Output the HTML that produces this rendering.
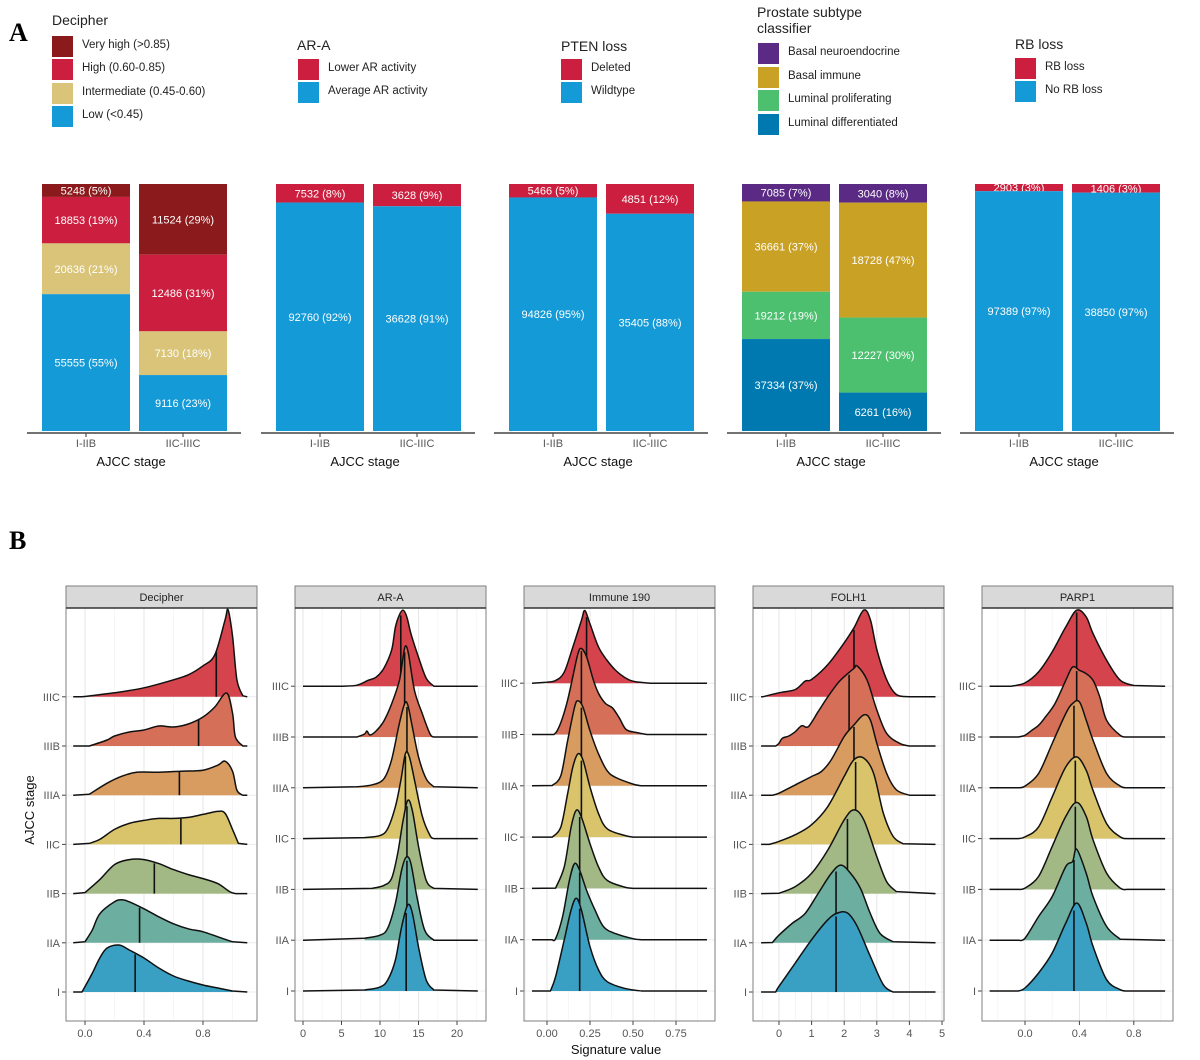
<!DOCTYPE html>
<html><head><meta charset="utf-8">
<style>
body{margin:0;background:#fff;}
#root{position:relative;width:1200px;height:1060px;overflow:hidden;font-family:"Liberation Sans",sans-serif;background:#fff;}
.lg{position:absolute;font-size:11.5px;color:#222;}
.lgt{position:absolute;font-size:14px;color:#222;line-height:16px;}
.sw{position:absolute;width:21px;height:21px;}
.pl{position:absolute;font-family:"Liberation Serif",serif;font-weight:bold;font-size:26px;}
svg{position:absolute;left:0;top:0;}
</style></head><body>
<div id="root">
<div class="pl" style="left:9px;top:18px">A</div>
<div class="pl" style="left:9px;top:526px">B</div>
<div id="legends"></div>
<svg id="chart" width="1200" height="1060"></svg>
</div>
<script>
// ---------- Panel A data ----------
const barStages = ['I-IIB','IIC-IIIC'];
const decipherCats = ['Very high (>0.85)','High (0.60-0.85)','Intermediate (0.45-0.60)','Low (<0.45)'];
const decipherI = [5248,18853,20636,55555];
const decipherII = [11524,12486,7130,9116];
const araCats = ['Lower AR activity','Average AR activity'];
const araI = [7532,92760];
const araII = [3628,36628];
const ptenCats = ['Deleted','Wildtype'];
const ptenI = [5466,94826];
const ptenII = [4851,35405];
const subCats = ['Basal neuroendocrine','Basal immune','Luminal proliferating','Luminal differentiated'];
const subI = [7085,36661,19212,37334];
const subII = [3040,18728,12227,6261];
const rbCats = ['RB loss','No RB loss'];
const rbI = [2903,97389];
const rbII = [1406,38850];

// ---------- Panel B data (stages I..IIIC) ----------
const ridgeStages = ['I','IIA','IIB','IIC','IIIA','IIIB','IIIC'];
const decipherX = [[-0.02,0.05,0.1,0.15,0.23,0.3,0.4,0.5,0.6,0.7,0.8,0.9,1.0],[0.0,0.05,0.1,0.2,0.25,0.3,0.4,0.5,0.6,0.7,0.8,0.9,1.0],[0.0,0.1,0.2,0.3,0.4,0.5,0.6,0.7,0.8,0.9,0.98,1.02],[0.03,0.1,0.2,0.3,0.4,0.5,0.6,0.7,0.8,0.9,0.95,1.0,1.04],[0.03,0.15,0.25,0.35,0.5,0.65,0.8,0.9,0.95,1.0,1.03,1.07],[0.03,0.15,0.2,0.3,0.4,0.5,0.6,0.7,0.8,0.88,0.96,1.0,1.02,1.07],[-0.02,0.2,0.4,0.6,0.7,0.8,0.88,0.95,0.97,1.0,1.03,1.07]];
const decipherD = [[0,19,34,44,47,42,34,24,16,11,7,4,1],[1,13,29,41,43,41,34,26,19,14,11,6,1],[1,14,29,34,34,30,24,19,15,10,2,0],[1,5,15,21,24,26,26,27,30,33,31,15,1],[1,12,19,23,23,24,25,30,34,24,5,0],[0,6,10,14,16,20,19,22,29,39,53,33,9,0],[0,4,9,17,22,31,42,77,87,61,17,1]];
const decipherMed = [0.34,0.37,0.47,0.65,0.64,0.77,0.89];

const araX = [[8,10,11,12,12.8,13.6,14.2,15,16,17],[8,10,11,12,12.8,13.4,14,14.8,15.8,17],[9,10.5,11.5,12.3,13,13.6,14.2,15,16,17],[8,10,11,12,12.7,13.3,13.8,14.5,15.5,16.5,17],[7,9,10.5,11.5,12.5,13.2,13.6,14.2,15,16,17],[7,8,8.3,8.7,9.5,10.5,11.5,12.5,13,13.3,13.7,14.5,15.5,16.5,17],[5,7,8.5,9.5,10.5,11.5,12,12.5,13,13.5,14,15,16,17]];
const araD = [[1,4,11,31,64,86,78,44,11,1],[2,5,12,37,70,83,77,43,10,0],[1,4,11,36,69,89,79,43,9,1],[1,3,10,32,58,85,82,58,22,3,0],[1,3,9,28,64,84,83,61,31,9,1],[0,3,6,2,6,16,33,56,80,91,83,46,23,3,0],[0,1,6,9,18,36,59,71,76,69,53,29,8,0]];
const araMed = [13.4,13.5,13.5,13.3,13.5,13.2,12.7];

const immuneX = [[0.02,0.05,0.1,0.14,0.17,0.2,0.25,0.3,0.35,0.45,0.55],[0.03,0.05,0.09,0.13,0.16,0.19,0.23,0.28,0.33,0.4,0.5,0.55],[0.05,0.1,0.14,0.17,0.2,0.25,0.3,0.35,0.45,0.5],[0.03,0.08,0.12,0.15,0.18,0.21,0.25,0.3,0.35,0.45,0.5],[0.03,0.08,0.12,0.16,0.18,0.21,0.25,0.3,0.35,0.4,0.5,0.55],[0.04,0.06,0.09,0.12,0.15,0.18,0.2,0.23,0.27,0.3,0.34,0.38,0.42,0.46,0.52,0.58],[0,0.05,0.1,0.15,0.2,0.22,0.25,0.3,0.35,0.4,0.45,0.5,0.6]];
const immuneD = [[0,43,153,243,278,243,133,63,28,8,0],[0,3,68,178,228,208,148,88,38,18,3,0],[1,64,184,234,214,134,64,24,4,0],[0,30,130,210,250,230,150,70,25,5,0],[1,30,135,235,255,235,165,95,45,25,5,0],[0,12,50,103,173,243,258,233,163,123,93,80,50,15,6,0],[3,8,33,108,188,218,178,108,68,38,18,6,0]];
const immuneMed = [0.19,0.19,0.19,0.2,0.2,0.2,0.23];

const folhX = [[-0.1,0,0.5,1,1.5,1.8,2.1,2.4,2.8,3.2,3.5],[-0.2,0,0.4,0.8,1.2,1.6,1.9,2.2,2.5,2.8,3.1,3.5],[0,0.5,1,1.5,2,2.3,2.6,3,3.3,3.6],[-0.3,0,0.5,1,1.5,2,2.3,2.6,2.9,3.2,3.5,3.8],[-0.2,0,0.5,1,1.3,1.6,2,2.3,2.6,2.8,3,3.3,3.6,4],[-0.1,0,0.1,0.3,0.5,0.7,0.9,1.2,1.5,1.8,2,2.3,2.4,2.7,3,3.3,3.7,4],[-0.5,0,0.5,0.8,1,1.5,2,2.3,2.6,2.8,3,3.3,3.6,4]];
const folhD = [[0,17,87,157,217,237,237,197,107,22,0],[1,23,58,88,148,208,233,208,163,88,28,3],[1,21,61,131,221,251,221,111,36,6],[0,9,29,59,114,204,254,259,214,94,24,2],[0,6,31,56,71,106,176,211,241,226,156,66,16,0],[0,8,23,30,43,61,58,103,148,188,208,233,240,198,108,38,8,0],[0,12,22,47,52,97,162,207,260,232,142,52,7,0]];
const folhMed = [1.75,1.75,2.1,2.35,2.3,2.15,2.3];

const parpX = [[-0.05,0,0.1,0.2,0.3,0.38,0.45,0.5,0.6,0.7,0.75],[-0.05,0,0.1,0.2,0.3,0.35,0.38,0.45,0.5,0.6,0.7],[-0.05,0,0.1,0.2,0.3,0.38,0.45,0.5,0.6,0.7,0.75],[-0.05,0,0.1,0.2,0.3,0.38,0.45,0.5,0.6,0.7,0.75],[-0.05,0,0.1,0.2,0.3,0.35,0.4,0.45,0.5,0.6,0.7,0.75],[-0.05,0,0.05,0.1,0.15,0.22,0.3,0.35,0.4,0.45,0.5,0.55,0.6,0.7,0.75],[-0.1,0,0.1,0.2,0.3,0.38,0.45,0.5,0.6,0.7,0.8]];
const parpD = [[0,9,54,114,204,264,204,134,34,4,0],[0,6,71,131,221,236,273,201,131,41,3],[0,4,39,129,219,261,219,149,49,4,0],[0,5,35,125,215,245,205,145,45,5,0],[0,5,43,133,223,253,258,203,143,43,5,0],[0,5,20,35,60,100,170,210,200,190,170,120,50,5,0],[0,10,43,103,178,228,208,158,78,18,2]];
const parpMed = [0.36,0.36,0.37,0.37,0.36,0.38,0.38];

const decipherTicks = [0,0.4,0.8], decipherTickLabels = ['0.0','0.4','0.8'];
const araTicks = [0,5,10,15,20], araTickLabels = ['0','5','10','15','20'];
const immuneTicks = [0,0.25,0.5,0.75], immuneTickLabels = ['0.00','0.25','0.50','0.75'];
const folhTicks = [0,1,2,3,4,5], folhTickLabels = ['0','1','2','3','4','5'];
const parpTicks = [0,0.4,0.8], parpTickLabels = ['0.0','0.4','0.8'];

// ---------- rendering ----------
const NS='http://www.w3.org/2000/svg';
const svg=document.getElementById('chart');
function mk(tag,attrs,parent){const e=document.createElementNS(NS,tag);for(const k in attrs)e.setAttribute(k,attrs[k]);(parent||svg).appendChild(e);return e;}
function txt(x,y,s,size,fill,anchor,parent){const t=mk('text',{x:x,y:y,'font-size':size,fill:fill,'text-anchor':anchor||'middle','font-family':'Liberation Sans, sans-serif'},parent);t.textContent=s;return t;}

// Legends
const legRoot=document.getElementById('legends');
function legend(name,title,tx,ty,sx,sy,pitch,cats,cols){
  const g=document.createElement('div');
  
  
  legRoot.appendChild(g);
  const t=document.createElement('div');t.className='lgt';t.style.left=tx+'px';t.style.top=ty+'px';t.innerHTML=title;
  
  
  g.appendChild(t);
  cats.forEach((c,i)=>{
    const s=document.createElement('div');s.className='sw';s.style.left=sx+'px';s.style.top=(sy+i*pitch)+'px';s.style.background=cols[i];
    
    
    g.appendChild(s);
    const l=document.createElement('div');l.className='lg';l.style.left=(sx+30)+'px';l.style.top=(sy+i*pitch+3)+'px';l.textContent=c;
    
    
    g.appendChild(l);
  });
}
const decCols=['#8b1a1c','#cc1f3f','#d9c479','#149ad6'];
const twoCols=['#cc1f3f','#149ad6'];
const subCols=['#5a2a84','#c9a125','#4cc06e','#0079b0'];
legend('decipher-legend','Decipher',52,12,52,36,23.3,decipherCats,decCols);
legend('ara-legend','AR-A',297,37,298,59,23,araCats,twoCols);
legend('pten-legend','PTEN loss',561,38,561,59,23,ptenCats,twoCols);
legend('subtype-legend','Prostate subtype<br>classifier',757,4,758,43,23.5,subCats,subCols);
legend('rb-legend','RB loss',1015,36,1015,58,23,rbCats,twoCols);

// Bar charts
const barPanels=[
 {name:'decipher',left:27,vals:[decipherI,decipherII],cols:decCols},
 {name:'ara',left:261,vals:[araI,araII],cols:twoCols},
 {name:'pten',left:494,vals:[ptenI,ptenII],cols:twoCols},
 {name:'subtype',left:727,vals:[subI,subII],cols:subCols},
 {name:'rb',left:960,vals:[rbI,rbII],cols:twoCols}];
const barTop=184,barBot=431;
function yBar(frac){return barTop+frac*(barBot-barTop);}
barPanels.forEach(p=>{
  const g=mk('g',{});
  
  
  p.vals.forEach((arr,bi)=>{
    const sum=arr.reduce((a,b)=>a+b,0);
    const bx=p.left+(bi===0?15:112), bw=88;
    let cum=0;
    arr.forEach((v,si)=>{
      const y0=yBar(cum/sum), y1=yBar((cum+v)/sum);
      const r=mk('rect',{x:bx,y:y0,width:bw,height:y1-y0,fill:p.cols[si]},g);
      
      
      const lbl=txt(bx+bw/2,(y0+y1)/2+4,v+' ('+Math.round(v/sum*100)+'%)',11,'#fff','middle',g);
      
      
      cum+=v;
    });
    mk('line',{x1:bx+bw/2,x2:bx+bw/2,y1:433,y2:437,stroke:'#333','stroke-width':1},g);
    const tl=txt(bx+bw/2,447,barStages[bi],11,'#555','middle',g);
    
    
  });
  const ax=mk('line',{x1:p.left,x2:p.left+214,y1:433,y2:433,stroke:'#444','stroke-width':1.6},g);
  
  
  const at=txt(p.left+104,466,'AJCC stage',13,'#111','middle',g);
  
  
});

// Ridgeline panels
const stageCols=['#3aa0c3','#6cae9f','#a3b985','#d9c46c','#d99c60','#d56f57','#d5444c'];
const ridgePanels=[
 {name:'Decipher',left:66,right:257,x0:85,ppu:147.5,b0:992,step:49.2,hs:1,X:decipherX,D:decipherD,M:decipherMed,ext:[-0.08,1.1],ticks:decipherTicks,tl:decipherTickLabels,minor:0.2},
 {name:'AR-A',left:295,right:486,x0:303,ppu:7.7,b0:991,step:50.8,hs:1,X:araX,D:araD,M:araMed,ext:[0,22.7],ticks:araTicks,tl:araTickLabels,minor:2.5},
 {name:'Immune 190',left:524,right:715,x0:547,ppu:172,b0:991,step:51.3,hs:1/3,X:immuneX,D:immuneD,M:immuneMed,ext:[-0.087,0.93],ticks:immuneTicks,tl:immuneTickLabels,minor:0.125},
 {name:'FOLH1',left:753,right:944,x0:779,ppu:32.6,b0:992,step:49.2,hs:1/3,X:folhX,D:folhD,M:folhMed,ext:[-0.55,4.8],ticks:folhTicks,tl:folhTickLabels,minor:0.5},
 {name:'PARP1',left:982,right:1173,x0:1025,ppu:136,b0:991,step:50.8,hs:1/3,X:parpX,D:parpD,M:parpMed,ext:[-0.26,1.03],ticks:parpTicks,tl:parpTickLabels,minor:0.2}];
function crPath(pts){
  let d='';
  for(let i=0;i<pts.length-1;i++){
    const p0=pts[Math.max(0,i-1)],p1=pts[i],p2=pts[i+1],p3=pts[Math.min(pts.length-1,i+2)];
    const c1=[p1[0]+(p2[0]-p0[0])/6,p1[1]+(p2[1]-p0[1])/6];
    const c2=[p2[0]-(p3[0]-p1[0])/6,p2[1]-(p3[1]-p1[1])/6];
    d+=' C'+c1[0].toFixed(1)+','+c1[1].toFixed(1)+' '+c2[0].toFixed(1)+','+c2[1].toFixed(1)+' '+p2[0].toFixed(1)+','+p2[1].toFixed(1);
  }
  return d;
}
function interp(xs,ds,v){for(let i=0;i<xs.length-1;i++){if(v>=xs[i]&&v<=xs[i+1]){const t=(v-xs[i])/(xs[i+1]-xs[i]);return ds[i]+t*(ds[i+1]-ds[i]);}}return 0;}
ridgePanels.forEach((p,pi)=>{
  const g=mk('g',{});
  
  
  const xs=v=>p.x0+v*p.ppu;
  const ys=(k,d)=>p.b0-k*p.step-d*p.hs;
  const top=608,bot=1021;
  mk('rect',{x:p.left,y:top,width:p.right-p.left,height:bot-top,fill:'#fff'},g);
  const vmin=(p.left-p.x0)/p.ppu, vmax=(p.right-p.x0)/p.ppu;
  for(let v=Math.ceil(vmin/p.minor)*p.minor; v<=vmax; v+=p.minor){
    const isMajor=p.ticks.some(t=>Math.abs(t-v)<1e-6);
    mk('line',{x1:xs(v),x2:xs(v),y1:top,y2:bot,stroke:isMajor?'#e6e6e6':'#f2f2f2','stroke-width':isMajor?1:0.7},g);
  }
  ridgeStages.forEach((s,k)=>{mk('line',{x1:p.left,x2:p.right,y1:ys(k,0),y2:ys(k,0),stroke:'#ececec','stroke-width':1},g);});
  for(let k=ridgeStages.length-1;k>=0;k--){
    const s=ridgeStages[k];
    const X=p.X[k],D=p.D[k];
    const pts=X.map((x,i)=>[xs(x),ys(k,D[i])]);
    const base=ys(k,0);
    const curve='M'+pts[0][0].toFixed(1)+','+pts[0][1].toFixed(1)+crPath(pts);
    const fillP=mk('path',{d:curve+' L'+pts[pts.length-1][0].toFixed(1)+','+base+' L'+pts[0][0].toFixed(1)+','+base+' Z',fill:stageCols[k],stroke:'none'},g);
    
    
    const lineD='M'+xs(p.ext[0]).toFixed(1)+','+base+' L'+pts[0][0].toFixed(1)+','+pts[0][1].toFixed(1)+crPath(pts)+' L'+xs(p.ext[1]).toFixed(1)+','+base;
    const ol=mk('path',{d:lineD,fill:'none',stroke:'#111','stroke-width':1.5,'stroke-linejoin':'round'},g);
    
    
    const mx=xs(p.M[k]), mh=interp(X,D,p.M[k]);
    const ml=mk('line',{x1:mx,x2:mx,y1:base,y2:ys(k,mh*0.97),stroke:'#111','stroke-width':1.6},g);
    
    
    mk('line',{x1:p.left-4,x2:p.left,y1:base,y2:base,stroke:'#444'},g);
    const yl=txt(p.left-6,base+4,s,11,'#555','end',g);
    
    
  }
  mk('rect',{x:p.left,y:top,width:p.right-p.left,height:bot-top,fill:'none',stroke:'#7f7f7f','stroke-width':1},g);
  const st=mk('rect',{x:p.left,y:586,width:p.right-p.left,height:22,fill:'#d9d9d9',stroke:'#7f7f7f','stroke-width':1},g);
  
  
  mk('line',{x1:p.left,x2:p.right,y1:608,y2:608,stroke:'#333','stroke-width':1.5},g);
  const sl=txt((p.left+p.right)/2,601,p.name,11,'#222','middle',g);
  
  
  p.ticks.forEach((t,i)=>{
    mk('line',{x1:xs(t),x2:xs(t),y1:bot,y2:bot+4,stroke:'#444'},g);
    const tl=txt(xs(t),1037,p.tl[i],11,'#555','middle',g);
    
    
  });
});
const yt=txt(0,0,'AJCC stage',13,'#111','middle');
yt.setAttribute('transform','translate(34,810) rotate(-90)');


const xt=txt(616,1054,'Signature value',13,'#111','middle');


</script>
</body></html>
